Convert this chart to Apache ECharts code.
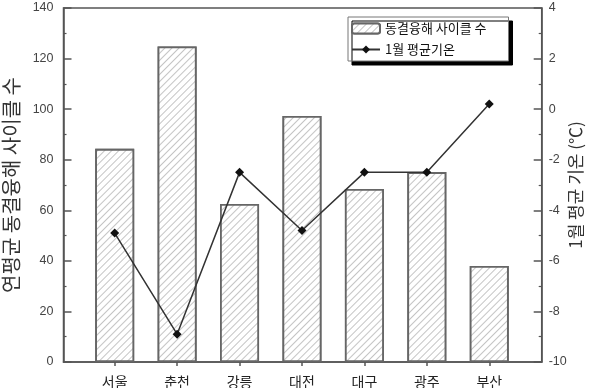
<!DOCTYPE html>
<html><head><meta charset="utf-8">
<script src="https://cdn.jsdelivr.net/npm/echarts@6/dist/echarts.min.js"></script>
<style>html,body{margin:0;padding:0;background:#fff}#c{width:593px;height:388px}</style>
</head><body><div id="c"></div>
<script>
const cities = ['서울', '춘천', '강릉', '대전', '대구', '광주', '부산'];
const cycles = [84.3, 124.8, 62.5, 97.3, 68.4, 75.1, 38.0];
const janTemp = [-4.9, -8.9, -2.5, -4.8, -2.5, -2.5, 0.2];
const leftTicks = { min: 0, max: 140, interval: 20 };
const rightTicks = { min: -10, max: 4, interval: 2 };
const barName = '동결융해 사이클 수';
const lineName = '1월 평균기온';

const idx = cities.map((_, i) => i);
const chart = echarts.init(document.getElementById('c'));
const axisCol = '#555';
const font = '"Liberation Sans", Arial, sans-serif';
const kfont = '"Noto Sans CJK KR", sans-serif';
chart.setOption({
  animation: false,
  backgroundColor: '#fff',
  grid: { left: 63.5, right: 51.3, top: 8, bottom: 26, outerBoundsMode: 'none', containLabel: false, show: true, borderColor: axisCol, borderWidth: 1.5, backgroundColor: 'transparent' },
  legend: {
    orient: 'vertical', left: 348, top: 17,
    padding: [5, 22, 5, 3], itemGap: 8, itemWidth: 28, itemHeight: 10,
    backgroundColor: '#fff', borderColor: '#777', borderWidth: 1,
    shadowColor: '#000', shadowBlur: 0, shadowOffsetX: 4, shadowOffsetY: 4,
    textStyle: { fontFamily: kfont, fontSize: 13, color: '#111' },
    data: [barName, lineName]
  },
  xAxis: {
    type: 'value', min: -0.82, max: 6.84,
    splitLine: { show: false },
    axisLine: { onZero: false, lineStyle: { color: axisCol, width: 1.5 } },
    axisTick: { customValues: idx, length: 4, lineStyle: { color: axisCol, width: 1.5 } },
    axisLabel: { customValues: idx, formatter: v => cities[Math.round(v)], margin: 13, fontSize: 14, color: '#222', fontFamily: kfont }
  },
  yAxis: [{
    type: 'value', min: leftTicks.min, max: leftTicks.max, interval: leftTicks.interval,
    name: '연평균 동결융해 사이클 수', nameLocation: 'middle', nameRotate: 90, nameGap: 42, nameMoveOverlap: false,
    nameTextStyle: { fontSize: 20, color: '#333', fontFamily: kfont },
    splitLine: { show: false },
    axisLine: { show: true, onZero: false, lineStyle: { color: axisCol, width: 1.5 } },
    axisTick: { inside: true, length: 8, lineStyle: { color: axisCol, width: 1.5 } },
    minorTick: { show: true, splitNumber: 2, length: 3, lineStyle: { color: axisCol, width: 1.2 } },
    axisLabel: { margin: 10, fontSize: 12.5, color: '#444', fontFamily: font }
  }, {
    type: 'value', min: rightTicks.min, max: rightTicks.max, interval: rightTicks.interval,
    name: '1월 평균 기온 (℃)', nameLocation: 'middle', nameRotate: 90, nameGap: 25, nameMoveOverlap: false,
    nameTextStyle: { fontSize: 17, color: '#333', fontFamily: kfont },
    splitLine: { show: false },
    axisLine: { show: true, onZero: false, lineStyle: { color: axisCol, width: 1.5 } },
    axisTick: { inside: true, length: 8, lineStyle: { color: axisCol, width: 1.5 } },
    minorTick: { show: true, splitNumber: 2, length: 3, lineStyle: { color: axisCol, width: 1.2 } },
    axisLabel: { margin: 7, fontSize: 12.5, color: '#444', fontFamily: font }
  }],
  series: [{
    name: barName, type: 'bar', barWidth: 39, yAxisIndex: 0,
    data: idx.map(i => [i, cycles[i]]),
    itemStyle: {
      color: '#fff', borderColor: '#666', borderWidth: 1.8,
      decal: { symbol: 'rect', symbolSize: 1, dashArrayX: [1, 0], dashArrayY: [1, 4], rotation: -Math.PI / 4, color: '#c4c4c4', backgroundColor: '#fff' }
    }
  }, {
    name: lineName, type: 'line', yAxisIndex: 1,
    data: idx.map(i => [i, janTemp[i]]),
    symbol: 'diamond', symbolSize: 9,
    lineStyle: { color: '#333', width: 1.5 },
    itemStyle: { color: '#111' }
  }]
});
</script></body></html>
